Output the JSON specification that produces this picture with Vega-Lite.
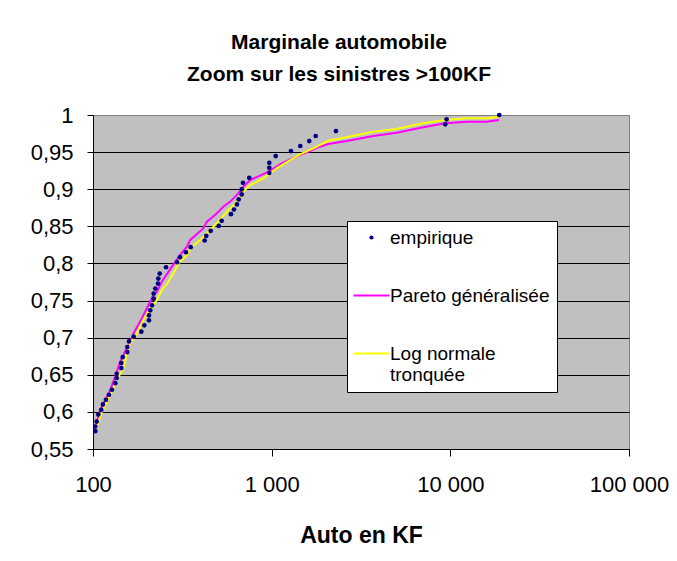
{
  "$schema": "https://vega.github.io/schema/vega-lite/v6.json",
  "width": 536,
  "height": 334,
  "autosize": {"type": "none"},
  "padding": {"left": 93, "top": 115, "right": 48, "bottom": 112},
  "background": "white",
  "config": {
    "font": "Liberation Sans",
    "view": {"fill": "#C0C0C0", "stroke": "#808080", "strokeWidth": 1}
  },
  "title": {
    "text": ["Marginale automobile", "Zoom sur les sinistres >100KF"],
    "fontSize": 21,
    "fontWeight": "bold",
    "color": "black",
    "lineHeight": 32,
    "anchor": "middle",
    "frame": "group",
    "dx": -22,
    "offset": 19
  },
  "datasets": {
    "emp": [
      {"x": 103.0, "y": 0.5740, "series": "empirique"},
      {"x": 103.0, "y": 0.5803, "series": "empirique"},
      {"x": 104.9, "y": 0.5870, "series": "empirique"},
      {"x": 107.1, "y": 0.5965, "series": "empirique"},
      {"x": 111.3, "y": 0.6028, "series": "empirique"},
      {"x": 113.7, "y": 0.6100, "series": "empirique"},
      {"x": 118.2, "y": 0.6163, "series": "empirique"},
      {"x": 122.9, "y": 0.6231, "series": "empirique"},
      {"x": 127.7, "y": 0.6298, "series": "empirique"},
      {"x": 133.3, "y": 0.6387, "series": "empirique"},
      {"x": 135.7, "y": 0.6455, "series": "empirique"},
      {"x": 135.7, "y": 0.6514, "series": "empirique"},
      {"x": 144.0, "y": 0.6590, "series": "empirique"},
      {"x": 144.0, "y": 0.6657, "series": "empirique"},
      {"x": 146.7, "y": 0.6738, "series": "empirique"},
      {"x": 155.6, "y": 0.6806, "series": "empirique"},
      {"x": 155.6, "y": 0.6873, "series": "empirique"},
      {"x": 159.1, "y": 0.6950, "series": "empirique"},
      {"x": 169.0, "y": 0.7013, "series": "empirique"},
      {"x": 186.4, "y": 0.7081, "series": "empirique"},
      {"x": 193.7, "y": 0.7166, "series": "empirique"},
      {"x": 205.8, "y": 0.7233, "series": "empirique"},
      {"x": 205.8, "y": 0.7301, "series": "empirique"},
      {"x": 209.2, "y": 0.7368, "series": "empirique"},
      {"x": 213.9, "y": 0.7436, "series": "empirique"},
      {"x": 218.6, "y": 0.7526, "series": "empirique"},
      {"x": 218.6, "y": 0.7594, "series": "empirique"},
      {"x": 223.2, "y": 0.7661, "series": "empirique"},
      {"x": 231.1, "y": 0.7729, "series": "empirique"},
      {"x": 232.0, "y": 0.7796, "series": "empirique"},
      {"x": 236.2, "y": 0.7864, "series": "empirique"},
      {"x": 256.2, "y": 0.7949, "series": "empirique"},
      {"x": 295.2, "y": 0.8016, "series": "empirique"},
      {"x": 306.8, "y": 0.8084, "series": "empirique"},
      {"x": 331.5, "y": 0.8151, "series": "empirique"},
      {"x": 352.2, "y": 0.8219, "series": "empirique"},
      {"x": 421.8, "y": 0.8309, "series": "empirique"},
      {"x": 430.6, "y": 0.8371, "series": "empirique"},
      {"x": 455.7, "y": 0.8439, "series": "empirique"},
      {"x": 505.1, "y": 0.8506, "series": "empirique"},
      {"x": 525.0, "y": 0.8574, "series": "empirique"},
      {"x": 591.9, "y": 0.8664, "series": "empirique"},
      {"x": 615.2, "y": 0.8727, "series": "empirique"},
      {"x": 639.4, "y": 0.8795, "series": "empirique"},
      {"x": 653.5, "y": 0.8862, "series": "empirique"},
      {"x": 679.3, "y": 0.8930, "series": "empirique"},
      {"x": 679.3, "y": 0.8997, "series": "empirique"},
      {"x": 690.8, "y": 0.9086, "series": "empirique"},
      {"x": 749.3, "y": 0.9154, "series": "empirique"},
      {"x": 969.8, "y": 0.9221, "series": "empirique"},
      {"x": 969.8, "y": 0.9289, "series": "empirique"},
      {"x": 969.8, "y": 0.9356, "series": "empirique"},
      {"x": 1052.9, "y": 0.9447, "series": "empirique"},
      {"x": 1282.3, "y": 0.9514, "series": "empirique"},
      {"x": 1445.6, "y": 0.9582, "series": "empirique"},
      {"x": 1623.4, "y": 0.9649, "series": "empirique"},
      {"x": 1763.4, "y": 0.9717, "series": "empirique"},
      {"x": 2289.7, "y": 0.9784, "series": "empirique"},
      {"x": 9364, "y": 0.9874, "series": "empirique"},
      {"x": 9534, "y": 0.9942, "series": "empirique"},
      {"x": 18780, "y": 1.0, "series": "empirique"}
    ],
    "curves": [
      {"x": 101.3, "y": 0.5722, "series": "Pareto généralisée"},
      {"x": 109.4, "y": 0.6019, "series": "Pareto généralisée"},
      {"x": 124.5, "y": 0.6289, "series": "Pareto généralisée"},
      {"x": 132.8, "y": 0.6468, "series": "Pareto généralisée"},
      {"x": 141.6, "y": 0.6671, "series": "Pareto généralisée"},
      {"x": 151.0, "y": 0.6815, "series": "Pareto généralisée"},
      {"x": 157.6, "y": 0.6883, "series": "Pareto généralisée"},
      {"x": 168.1, "y": 0.7054, "series": "Pareto généralisée"},
      {"x": 187.3, "y": 0.7256, "series": "Pareto généralisée"},
      {"x": 204.0, "y": 0.7436, "series": "Pareto généralisée"},
      {"x": 217.5, "y": 0.7571, "series": "Pareto généralisée"},
      {"x": 227.3, "y": 0.7615, "series": "Pareto généralisée"},
      {"x": 242.3, "y": 0.7750, "series": "Pareto généralisée"},
      {"x": 275.8, "y": 0.7953, "series": "Pareto généralisée"},
      {"x": 306.8, "y": 0.8111, "series": "Pareto généralisée"},
      {"x": 334.5, "y": 0.8223, "series": "Pareto généralisée"},
      {"x": 349.0, "y": 0.8313, "series": "Pareto généralisée"},
      {"x": 414.2, "y": 0.8471, "series": "Pareto généralisée"},
      {"x": 432.8, "y": 0.8560, "series": "Pareto généralisée"},
      {"x": 492.3, "y": 0.8673, "series": "Pareto généralisée"},
      {"x": 536.1, "y": 0.8763, "series": "Pareto généralisée"},
      {"x": 584.4, "y": 0.8830, "series": "Pareto généralisée"},
      {"x": 650.4, "y": 0.8943, "series": "Pareto généralisée"},
      {"x": 693.5, "y": 0.9032, "series": "Pareto généralisée"},
      {"x": 756.1, "y": 0.9123, "series": "Pareto généralisée"},
      {"x": 897.4, "y": 0.9204, "series": "Pareto généralisée"},
      {"x": 978.3, "y": 0.9248, "series": "Pareto généralisée"},
      {"x": 1137.6, "y": 0.9348, "series": "Pareto généralisée"},
      {"x": 1266.4, "y": 0.9402, "series": "Pareto généralisée"},
      {"x": 1440.2, "y": 0.9460, "series": "Pareto généralisée"},
      {"x": 1638.2, "y": 0.9514, "series": "Pareto généralisée"},
      {"x": 1785.8, "y": 0.9559, "series": "Pareto généralisée"},
      {"x": 2074.0, "y": 0.9609, "series": "Pareto généralisée"},
      {"x": 2628.7, "y": 0.9649, "series": "Pareto généralisée"},
      {"x": 3703.4, "y": 0.9717, "series": "Pareto généralisée"},
      {"x": 5006.4, "y": 0.9761, "series": "Pareto généralisée"},
      {"x": 7053.1, "y": 0.9834, "series": "Pareto généralisée"},
      {"x": 9328, "y": 0.9888, "series": "Pareto généralisée"},
      {"x": 12337, "y": 0.9910, "series": "Pareto généralisée"},
      {"x": 15964, "y": 0.9910, "series": "Pareto généralisée"},
      {"x": 18708, "y": 0.9933, "series": "Pareto généralisée"},
      {"x": 102.6, "y": 0.5722, "series": "Log normale tronquée"},
      {"x": 111.9, "y": 0.5996, "series": "Log normale tronquée"},
      {"x": 127.3, "y": 0.6266, "series": "Log normale tronquée"},
      {"x": 138.5, "y": 0.6468, "series": "Log normale tronquée"},
      {"x": 147.7, "y": 0.6582, "series": "Log normale tronquée"},
      {"x": 154.4, "y": 0.6784, "series": "Log normale tronquée"},
      {"x": 161.1, "y": 0.6919, "series": "Log normale tronquée"},
      {"x": 175.6, "y": 0.7054, "series": "Log normale tronquée"},
      {"x": 195.4, "y": 0.7278, "series": "Log normale tronquée"},
      {"x": 213.1, "y": 0.7413, "series": "Log normale tronquée"},
      {"x": 227.3, "y": 0.7503, "series": "Log normale tronquée"},
      {"x": 242.3, "y": 0.7638, "series": "Log normale tronquée"},
      {"x": 263.9, "y": 0.7750, "series": "Log normale tronquée"},
      {"x": 287.6, "y": 0.7908, "series": "Log normale tronquée"},
      {"x": 300.1, "y": 0.7999, "series": "Log normale tronquée"},
      {"x": 334.5, "y": 0.8111, "series": "Log normale tronquée"},
      {"x": 356.8, "y": 0.8223, "series": "Log normale tronquée"},
      {"x": 397.0, "y": 0.8313, "series": "Log normale tronquée"},
      {"x": 451.4, "y": 0.8448, "series": "Log normale tronquée"},
      {"x": 502.6, "y": 0.8560, "series": "Log normale tronquée"},
      {"x": 560.2, "y": 0.8695, "series": "Log normale tronquée"},
      {"x": 637.1, "y": 0.8830, "series": "Log normale tronquée"},
      {"x": 693.5, "y": 0.8965, "series": "Log normale tronquée"},
      {"x": 756.1, "y": 0.9055, "series": "Log normale tronquée"},
      {"x": 897.4, "y": 0.9146, "series": "Log normale tronquée"},
      {"x": 1066.6, "y": 0.9281, "series": "Log normale tronquée"},
      {"x": 1266.4, "y": 0.9393, "series": "Log normale tronquée"},
      {"x": 1440.2, "y": 0.9470, "series": "Log normale tronquée"},
      {"x": 1709.2, "y": 0.9551, "series": "Log normale tronquée"},
      {"x": 2074.0, "y": 0.9653, "series": "Log normale tronquée"},
      {"x": 2628.7, "y": 0.9699, "series": "Log normale tronquée"},
      {"x": 3703.4, "y": 0.9775, "series": "Log normale tronquée"},
      {"x": 5006.4, "y": 0.9811, "series": "Log normale tronquée"},
      {"x": 7053.1, "y": 0.9888, "series": "Log normale tronquée"},
      {"x": 9328, "y": 0.9933, "series": "Log normale tronquée"},
      {"x": 12337, "y": 0.9955, "series": "Log normale tronquée"},
      {"x": 15964, "y": 0.9955, "series": "Log normale tronquée"},
      {"x": 18708, "y": 0.9977, "series": "Log normale tronquée"}
    ]
  },
  "encoding": {
    "x": {
      "field": "x",
      "type": "quantitative",
      "scale": {"type": "log", "domain": [100, 100000]},
      "axis": {
        "values": [100, 1000, 10000, 100000],
        "labelExpr": "datum.value >= 1000 ? replace(format(datum.value, ','), ',', ' ') : format(datum.value, 'd')",
        "grid": false,
        "domainColor": "black",
        "tickColor": "black",
        "tickSize": 7,
        "labelFontSize": 22,
        "labelColor": "black",
        "labelPadding": 18,
        "labelFlush": false,
        "labelOverlap": false,
        "title": "Auto en KF",
        "titleFontSize": 23,
        "titleFontWeight": "bold",
        "titleColor": "black",
        "titlePadding": 29
      }
    },
    "y": {
      "field": "y",
      "type": "quantitative",
      "scale": {"domain": [0.55, 1], "zero": false, "nice": false},
      "axis": {
        "values": [0.55, 0.6, 0.65, 0.7, 0.75, 0.8, 0.85, 0.9, 0.95, 1],
        "labelExpr": "replace(format(datum.value, '.2~f'), '.', ',')",
        "grid": true,
        "gridColor": {"condition": {"test": "datum.value >= 1 || datum.value <= 0.55", "value": "#808080"}, "value": "black"},
        "gridWidth": 1,
        "domainColor": "black",
        "tickColor": "black",
        "tickSize": 6,
        "labelFontSize": 22,
        "labelColor": "black",
        "labelPadding": 14,
        "labelFlush": false,
        "labelOverlap": false,
        "title": null
      }
    },
    "color": {
      "field": "series",
      "type": "nominal",
      "scale": {
        "domain": ["empirique", "Pareto généralisée", "Log normale tronquée"],
        "range": ["#000080", "#FF00FF", "#FFFF00"]
      },
      "legend": {
        "title": null,
        "orient": "none",
        "legendX": 254,
        "legendY": 106,
        "direction": "vertical",
        "fillColor": "white",
        "strokeColor": "black",
        "padding": 7,
        "labelFontSize": 19,
        "labelColor": "black",
        "labelLimit": 400,
        "symbolSize": 1296,
        "symbolOffset": 8,
        "labelOffset": 9,
        "rowPadding": 38,
        "labelExpr": "datum.label == 'Log normale tronquée' ? ['Log normale', 'tronquée'] : datum.label",
        "encode": {
          "symbols": {
            "update": {
              "shape": {"signal": "datum.value === 'empirique' ? 'circle' : 'stroke'"},
              "size": {"signal": "datum.value === 'empirique' ? 18 : 1296"},
              "fill": {"signal": "datum.value === 'empirique' ? '#000080' : 'transparent'"},
              "stroke": {"signal": "datum.value === 'empirique' ? '#000080' : (datum.value === 'Pareto généralisée' ? '#FF00FF' : '#FFFF00')"},
              "strokeWidth": {"signal": "datum.value === 'empirique' ? 0 : 2"},
              "opacity": {"value": 1}
            }
          }
        }
      }
    }
  },
  "layer": [
    {
      "data": {"name": "curves"},
      "mark": {"type": "line", "strokeWidth": 2}
    },
    {
      "data": {"name": "emp"},
      "mark": {"type": "point", "filled": true, "size": 22, "opacity": 1}
    }
  ]
}
